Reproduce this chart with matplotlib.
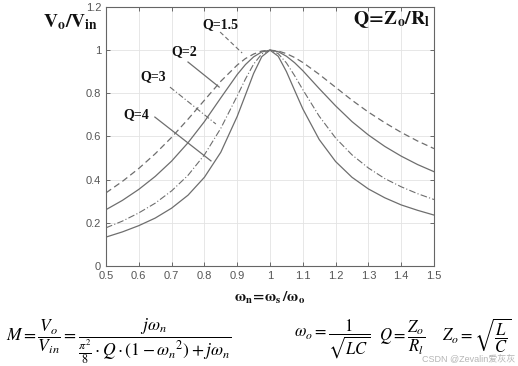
import matplotlib.pyplot as plt

plt.rcParams['mathtext.fontset'] = 'stix'
plt.rcParams['font.family'] = ['Liberation Sans', 'DejaVu Sans']

# normalised frequency wn = ws / wo
wn = [0.5, 0.55, 0.6, 0.65, 0.7, 0.75, 0.8, 0.85, 0.9, 0.925, 0.95, 0.975, 1.0,
      1.025, 1.05, 1.075, 1.1, 1.15, 1.2, 1.25, 1.3, 1.35, 1.4, 1.45, 1.5]

# gain |Vo/Vin| for each Q
gain_q15 = [0.339, 0.392, 0.452, 0.520, 0.596, 0.680, 0.768, 0.856, 0.931, 0.961, 0.982, 0.996, 1.0,
            0.996, 0.984, 0.966, 0.943, 0.888, 0.828, 0.768, 0.713, 0.664, 0.619, 0.579, 0.544]
gain_q2 = [0.261, 0.304, 0.355, 0.415, 0.486, 0.571, 0.669, 0.779, 0.887, 0.933, 0.969, 0.992, 1.0,
           0.993, 0.972, 0.942, 0.905, 0.822, 0.742, 0.669, 0.607, 0.554, 0.509, 0.470, 0.437]
gain_q3 = [0.177, 0.208, 0.246, 0.291, 0.348, 0.420, 0.515, 0.638, 0.788, 0.866, 0.935, 0.983, 1.0,
           0.984, 0.941, 0.882, 0.817, 0.694, 0.593, 0.515, 0.454, 0.405, 0.367, 0.335, 0.308]
gain_q4 = [0.134, 0.158, 0.187, 0.222, 0.268, 0.328, 0.411, 0.527, 0.693, 0.792, 0.892, 0.970, 1.0,
           0.972, 0.901, 0.814, 0.728, 0.586, 0.484, 0.411, 0.357, 0.316, 0.283, 0.258, 0.236]

q_labels = ['Q=1.5', 'Q=2', 'Q=3', 'Q=4']

fig = plt.figure(figsize=(5.18, 3.66), dpi=100)
ax = fig.add_axes([106 / 518, 100 / 366, 328 / 518, 259 / 366])

lc = '#6e6e6e'
ax.plot(wn, gain_q15, color=lc, lw=0.9, dashes=(5, 3))
ax.plot(wn, gain_q2, color=lc, lw=0.9)
ax.plot(wn, gain_q3, color=lc, lw=0.8, dashes=(6, 2, 1, 2))
ax.plot(wn, gain_q4, color=lc, lw=0.9)

ax.set_xlim(0.5, 1.5)
ax.set_ylim(0, 1.2)
ax.set_xticks([0.5, 0.6, 0.7, 0.8, 0.9, 1, 1.1, 1.2, 1.3, 1.4, 1.5])
ax.set_xticklabels(['0.5', '0.6', '0.7', '0.8', '0.9', '1', '1.1', '1.2', '1.3', '1.4', '1.5'])
ax.set_yticks([0, 0.2, 0.4, 0.6, 0.8, 1, 1.2])
ax.set_yticklabels(['0', '0.2', '0.4', '0.6', '0.8', '1', '1.2'])
ax.tick_params(direction='in', top=True, right=True, length=3, width=0.6,
               colors='#555555', labelsize=8)
ax.grid(True, color='#e3e3e3', lw=0.6)
for s in ax.spines.values():
    s.set_color('#666666')
    s.set_linewidth(0.8)

# curve labels with leader lines
tfont = dict(family='Liberation Serif', fontweight='bold', fontsize=10, color='#111111')
ax.text(0.848, 1.117, q_labels[0], ha='center', va='center', **tfont)
ax.plot([0.848, 0.915], [1.084, 0.987], color=lc, lw=0.8, dashes=(4, 2.5))
ax.text(0.738, 0.992, q_labels[1], ha='center', va='center', **tfont)
ax.plot([0.750, 0.845], [0.945, 0.829], color=lc, lw=0.9)
ax.text(0.643, 0.876, q_labels[2], ha='center', va='center', **tfont)
ax.plot([0.695, 0.835], [0.829, 0.658], color=lc, lw=0.8, dashes=(5, 2, 1, 2))
ax.text(0.592, 0.700, q_labels[3], ha='center', va='center', **tfont)
ax.plot([0.649, 0.820], [0.690, 0.487], color=lc, lw=0.9)

ax.text(1.488, 1.14, r'$\mathbf{Q\!=\!Z_o/R_l}$', ha='right', va='center',
        fontsize=14, color='#111111')
fig.text(98 / 518, 1 - 22 / 366, r'$\mathbf{V_o/V_{in}}$', ha='right', va='center',
         fontsize=14, color='#111111')
fig.text(270 / 518, 1 - 298 / 366, r'$\mathbf{\omega_n\!=\!\omega_s\,/\omega_o}$',
         ha='center', va='center', fontsize=11, color='#111111')

# formulas under the chart
fig.text(6 / 518, 1 - 341 / 366,
         r'$M=\dfrac{V_o}{V_{in}}=\dfrac{j\omega_n}{\frac{\pi^2}{8}\cdot Q\cdot(1-\omega_n{}^2)+j\omega_n}$',
         ha='left', va='center', fontsize=12.6)
fig.text(294 / 518, 1 - 339 / 366, r'$\omega_o=\dfrac{1}{\sqrt{LC}}$',
         ha='left', va='center', fontsize=12)
fig.text(379 / 518, 1 - 338 / 366, r'$Q=\dfrac{Z_o}{R_l}$',
         ha='left', va='center', fontsize=12)
fig.text(442 / 518, 1 - 336 / 366, r'$Z_o=\sqrt{\dfrac{L}{C}}$',
         ha='left', va='center', fontsize=12)

fig.text(515 / 518, 1 - 360 / 366, 'CSDN @Zevalin爱灰灰', ha='right', va='center',
         fontsize=6.5, color='#b5b5b5', family=['Liberation Sans', 'Noto Sans CJK SC'])

fig.savefig('out.png', dpi=100)
